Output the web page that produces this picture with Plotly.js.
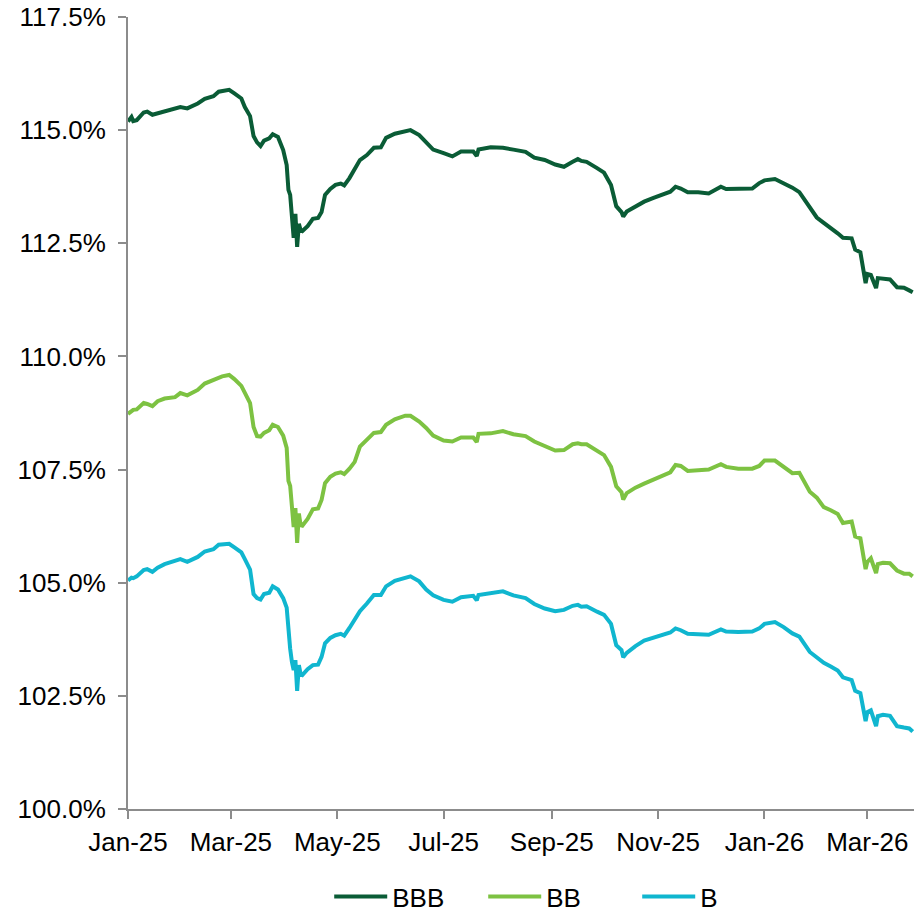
<!DOCTYPE html>
<html>
<head>
<meta charset="utf-8">
<script src="https://cdn.plot.ly/plotly-3.0.1.min.js"></script>
<style>html,body{margin:0;padding:0;background:#fff;}#chart{width:914px;height:914px;}</style>
</head>
<body>
<div id="chart"></div>
<script>
const dates = [
'2025-01-01','2025-01-03','2025-01-04','2025-01-06','2025-01-10','2025-01-12','2025-01-15','2025-01-18','2025-01-22','2025-01-28','2025-01-31',
'2025-02-04','2025-02-10','2025-02-14','2025-02-19','2025-02-22','2025-02-24','2025-02-28',
'2025-03-03','2025-03-07','2025-03-09','2025-03-12','2025-03-14','2025-03-16','2025-03-18','2025-03-20','2025-03-23','2025-03-25','2025-03-28','2025-03-31',
'2025-04-02','2025-04-03','2025-04-04','2025-04-05','2025-04-06','2025-04-07','2025-04-08','2025-04-09','2025-04-10','2025-04-11','2025-04-14','2025-04-17','2025-04-20','2025-04-22','2025-04-24','2025-04-27','2025-04-30',
'2025-05-03','2025-05-05','2025-05-08','2025-05-11','2025-05-14','2025-05-18','2025-05-22','2025-05-26','2025-05-29',
'2025-06-03','2025-06-09','2025-06-12','2025-06-17','2025-06-21','2025-06-25',
'2025-07-01','2025-07-06','2025-07-11','2025-07-18','2025-07-20','2025-07-21','2025-07-28',
'2025-08-04','2025-08-10','2025-08-17','2025-08-22','2025-08-28',
'2025-09-03','2025-09-08','2025-09-13','2025-09-16','2025-09-18','2025-09-21','2025-09-27',
'2025-10-01','2025-10-05','2025-10-08','2025-10-11','2025-10-12','2025-10-14','2025-10-19','2025-10-24','2025-10-29',
'2025-11-03','2025-11-08','2025-11-11','2025-11-14','2025-11-18','2025-11-24','2025-11-30',
'2025-12-07','2025-12-10','2025-12-17','2025-12-25','2025-12-29',
'2026-01-01','2026-01-07','2026-01-12','2026-01-17','2026-01-21','2026-01-27','2026-01-31',
'2026-02-04','2026-02-08','2026-02-12','2026-02-15','2026-02-20','2026-02-22','2026-02-25','2026-02-28',
'2026-03-01','2026-03-03','2026-03-06','2026-03-07','2026-03-10','2026-03-14','2026-03-18','2026-03-22','2026-03-25','2026-03-27'
];

const bbb = [
115.19,115.29,115.20,115.22,115.39,115.41,115.34,115.37,115.42,115.46,115.51,
115.48,115.59,115.69,115.75,115.85,115.87,115.89,
115.81,115.70,115.51,115.31,114.87,114.73,114.65,114.77,114.82,114.91,114.85,114.56,
114.23,113.68,113.57,113.19,112.62,113.15,112.42,112.93,112.79,112.77,112.88,113.04,113.06,113.19,113.57,113.70,113.79,
113.82,113.78,113.94,114.16,114.34,114.45,114.61,114.62,114.83,
114.92,114.97,115.00,114.89,114.73,114.57,
114.49,114.42,114.53,114.53,114.43,114.57,114.62,
114.61,114.57,114.52,114.39,114.34,
114.24,114.19,114.30,114.36,114.32,114.30,114.16,
114.06,113.79,113.32,113.19,113.09,113.20,113.31,113.42,113.50,
113.56,113.64,113.75,113.71,113.63,113.63,113.60,
113.75,113.70,113.71,113.71,113.83,
113.89,113.92,113.83,113.73,113.63,113.28,113.07,
112.95,112.84,112.72,112.62,112.61,112.36,112.30,111.62,
111.82,111.80,111.51,111.73,111.72,111.70,111.53,111.52,111.46,111.42
];

const bb = [
108.73,108.80,108.82,108.83,108.97,108.95,108.90,109.01,109.07,109.10,109.19,
109.14,109.26,109.40,109.48,109.55,109.56,109.59,
109.50,109.35,109.19,108.97,108.44,108.24,108.23,108.31,108.37,108.49,108.44,108.25,
107.98,107.25,107.14,106.72,106.23,106.65,105.88,106.53,106.27,106.26,106.41,106.62,106.64,106.83,107.20,107.34,107.41,
107.44,107.40,107.52,107.67,108.01,108.15,108.31,108.33,108.49,
108.61,108.69,108.69,108.56,108.42,108.25,
108.14,108.12,108.21,108.21,108.11,108.29,108.30,
108.35,108.28,108.24,108.12,108.02,
107.92,107.93,108.06,108.08,108.06,108.06,107.93,
107.82,107.56,107.13,107.00,106.84,106.98,107.10,107.19,107.27,
107.37,107.44,107.60,107.58,107.47,107.49,107.50,
107.62,107.56,107.52,107.52,107.58,
107.70,107.70,107.57,107.42,107.43,107.01,106.88,
106.67,106.60,106.52,106.32,106.35,106.02,105.98,105.30,
105.46,105.54,105.21,105.41,105.44,105.43,105.27,105.20,105.20,105.14
];

const b = [
105.05,105.11,105.10,105.14,105.28,105.30,105.24,105.33,105.41,105.48,105.52,
105.46,105.57,105.69,105.74,105.84,105.84,105.86,
105.78,105.67,105.52,105.29,104.75,104.66,104.63,104.75,104.78,104.92,104.85,104.66,
104.45,103.84,103.54,103.25,103.07,103.29,102.61,103.18,102.98,102.96,103.09,103.18,103.19,103.36,103.66,103.78,103.84,
103.87,103.83,104.00,104.18,104.37,104.54,104.73,104.73,104.92,
105.04,105.11,105.14,105.03,104.85,104.72,
104.62,104.58,104.68,104.71,104.61,104.73,104.76,
104.81,104.72,104.66,104.53,104.43,
104.37,104.40,104.49,104.51,104.47,104.48,104.36,
104.29,104.09,103.62,103.51,103.35,103.45,103.60,103.72,103.78,
103.84,103.90,103.99,103.95,103.87,103.87,103.85,
103.97,103.92,103.91,103.92,103.99,
104.09,104.13,104.02,103.88,103.81,103.47,103.36,
103.23,103.15,103.06,102.91,102.85,102.61,102.56,101.94,
102.14,102.18,101.83,102.05,102.08,102.06,101.83,101.80,101.78,101.71
];

const seriesNames = ['BBB', 'BB', 'B'];
const xTickVals = ['2025-01-01','2025-03-01','2025-05-01','2025-07-01','2025-09-01','2025-11-01','2026-01-01','2026-03-01'];
const xTickText = ['Jan-25','Mar-25','May-25','Jul-25','Sep-25','Nov-25','Jan-26','Mar-26'];
const yTickVals = [100, 102.5, 105, 107.5, 110, 112.5, 115, 117.5];
const yTickText = ['100.0%','102.5%','105.0%','107.5%','110.0%','112.5%','115.0%','117.5%'];

const colors = ['#0A5C36', '#7DC242', '#10B6CF'];
const FONT = '"Liberation Sans", Arial, Helvetica, sans-serif';
const axisGray = '#8C8C8C';
const FS = 26;

const traces = [bbb, bb, b].map((vals, i) => ({
  type: 'scatter', mode: 'lines', name: seriesNames[i],
  x: dates, y: vals,
  line: {color: colors[i], width: 4}
}));

const layout = {
  width: 914, height: 914,
  margin: {l: 128, r: 0, t: 17, b: 105, pad: 0, autoexpand: false},
  paper_bgcolor: '#ffffff', plot_bgcolor: '#ffffff',
  font: {family: FONT, size: FS, color: '#000000'},
  showlegend: true,
  legend: {
    orientation: 'h', x: 0.256, xanchor: 'left', y: -0.1105, yanchor: 'middle',
    font: {family: FONT, size: FS, color: '#000000'},
    itemwidth: 53, entrywidth: 86, entrywidthmode: 'pixels',
    bgcolor: 'rgba(0,0,0,0)'
  },
  xaxis: {
    type: 'date', range: ['2025-01-01', '2026-03-27 18:00'],
    tickmode: 'array', tickvals: xTickVals, ticktext: xTickText,
    ticks: 'outside', ticklen: 8, tickwidth: 2, tickcolor: axisGray,
    ticklabelstandoff: 1, automargin: false,
    showline: true, linecolor: axisGray, linewidth: 2,
    showgrid: false, zeroline: false,
    tickfont: {family: FONT, size: FS, color: '#000000'}
  },
  yaxis: {
    range: [100, 117.5],
    tickmode: 'array', tickvals: yTickVals, ticktext: yTickText,
    ticks: 'outside', ticklen: 8, tickwidth: 2, tickcolor: axisGray,
    ticklabelstandoff: 7, automargin: false,
    showline: true, linecolor: axisGray, linewidth: 2,
    showgrid: false, zeroline: false,
    tickfont: {family: FONT, size: FS, color: '#000000'}
  }
};

Plotly.newPlot('chart', traces, layout, {displayModeBar: false, staticPlot: true});
</script>
</body>
</html>
